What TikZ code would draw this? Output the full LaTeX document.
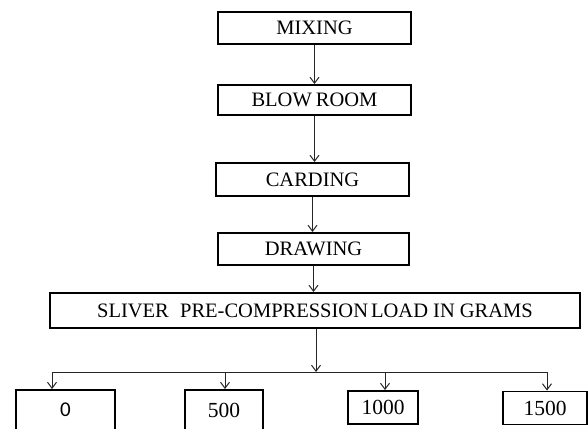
\documentclass[tikz,border=0pt]{standalone}
\usepackage{fontspec}
\setmainfont{Liberation Serif}
\newfontfamily\calfont{Carlito}
\usetikzlibrary{arrows.meta}
\begin{document}
\begin{tikzpicture}[x=1pt,y=-1pt,
 box/.style={draw=black,line width=1.9pt,inner sep=0pt,font=\fontsize{20.5}{24}\selectfont,text=black},
 arr/.style={draw=black!85,line width=1pt,-{Straight Barb[length=6pt,width=9pt]}},
 ln/.style={draw=black!85,line width=1pt}]
\useasboundingbox[fill=white] (0,0) rectangle (588,428);
\node[box,minimum width=193pt,minimum height=32pt] (mix) at (314.5,28) {MIXING};
\node[box,minimum width=193pt,minimum height=30pt] (blow) at (314.5,100) {BLOW\hspace{0.2em}ROOM};
\node[box,minimum width=193pt,minimum height=33pt] (card) at (312.5,179.5) {CARDING};
\node[box,minimum width=191pt,minimum height=32pt] (draw) at (313.5,249) {DRAWING};
\node[box,minimum width=530pt,minimum height=35pt] (sl) at (315,310.5) {SLIVER\hspace{0.55em}PRE-COMPRESSION\hspace{0.15em}LOAD IN GRAMS};
\node[box,minimum width=99pt,minimum height=40pt,font=\calfont\fontsize{21}{24}\selectfont] (b0) at (65.5,410) {0};
\node[box,minimum width=78pt,minimum height=40pt,font=\fontsize{21.5}{24}\selectfont] (b1) at (224,410) {500};
\node[box,minimum width=70pt,minimum height=33pt,font=\fontsize{21.5}{24}\selectfont] (b2) at (383,407.5) {1000};
\node[box,minimum width=84pt,minimum height=33pt,font=\fontsize{21.5}{24}\selectfont] (b3) at (545,408) {1500};
\coordinate (bus) at (316,372);
\coordinate (c0) at (52,372);
\coordinate (c1) at (225,372);
\coordinate (c2) at (385,372);
\coordinate (c3) at (547,372);
\draw[arr] (mix.south) -- (mix.south |- blow.north);
\draw[arr] (blow.south) -- (blow.south |- card.north);
\draw[arr] (card.south) -- (card.south |- draw.north);
\draw[arr] (draw.south) -- (draw.south |- sl.north);
\draw[arr] (sl.south -| bus) -- (bus);
\draw[ln] (c0) -- (c3);
\draw[arr] (c0) -- (c0 |- b0.north);
\draw[arr] (c1) -- (c1 |- b1.north);
\draw[arr] (c2) -- (c2 |- b2.north);
\draw[arr] (c3) -- (c3 |- b3.north);
\end{tikzpicture}
\end{document}
